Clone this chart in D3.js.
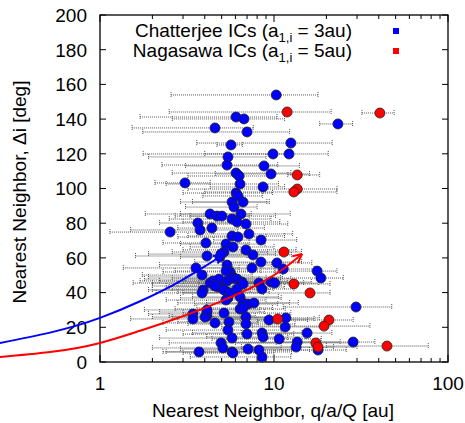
<!DOCTYPE html>
<html><head><meta charset="utf-8">
<script src="https://cdn.jsdelivr.net/npm/d3@7"></script>
<style>body{margin:0;background:#fff}svg{display:block}text{font-family:"Liberation Sans",Arial,sans-serif;fill:#000}</style>
</head><body><svg id="c" width="465" height="423"></svg>
<script>
// Chatterjee ICs (blue): nearest neighbour q/a/Q [au], Δi [deg], error bar low/high [au]
const blueX  = [10.3,6.05,6.72,4.58,7.0,23.3,5.66,12.5,9.87,12.2,5.44,5.37,8.76,6.05,6.3,9.61,3.08,6.38,8.65,6.05,6.21,5.74,6.64,5.89,4.29,4.70,5.02,6.46,3.65,5.74,6.13,6.9,3.76,4.40,2.53,5.74,6.21,7.18,8.42,4.06,5.30,5.81,6.9,5.16,4.12,7.57,4.89,4.96,8.42,10.4,3.56,5.37,7.47,11.3,17.7,18.6,3.86,5.59,5.81,5.30,4.29,3.91,3.86,4.70,4.89,5.37,5.81,6.13,5.37,6.38,8.2,8.53,9.61,10.1,4.46,4.83,4.76,5.16,5.44,5.59,6.64,7.09,7.67,6.38,6.64,4.12,3.42,3.42,4.12,4.01,4.58,5.16,6.9,5.51,6.9,9.36,11.7,11.6,5.44,5.74,7.0,8.53,8.65,10.7,4.96,5.09,5.74,7.09,8.53,8.2,3.71,5.81,15.5,13.6,13.4,17.9,28.5,29.6,6.55,6.64,6.13,4.58,5.30,4.12];
const blueY  = [153.9,141.2,140.1,134.9,132.6,137.2,125.1,126.2,119.9,119.9,118.2,113.5,113.0,108.9,107.2,108.4,103.2,102.6,100.9,97.4,95.7,92.2,92.2,89.3,85.3,84.1,84.1,85.3,80.1,82.4,80.7,79.5,76.1,77.2,74.9,72.6,72.0,73.8,70.3,68.6,68.0,66.3,64.6,63.4,61.1,61.7,60.5,62.2,57.6,57.1,54.2,55.9,54.2,53.6,52.4,48.4,50.1,51.9,49.0,52.4,45.5,41.5,39.8,45.5,43.8,46.7,48.4,47.8,40.3,37.5,45.5,42.1,46.1,45.5,46.7,47.8,43.2,41.5,36.9,39.8,34.0,33.4,34.0,30.5,31.1,28.8,27.7,24.8,26.5,25.9,22.5,28.2,25.9,23.1,21.9,24.2,25.4,20.2,18.4,13.8,16.1,16.7,14.4,13.3,11.0,8.1,5.8,7.5,2.9,6.9,5.8,5.2,16.7,11.5,8.6,6.9,11.5,31.7,46.1,45.0,42.1,43.8,35.7,30.0];
const blueLo = [2.56,1.70,2.6,1.53,1.76,18.3,4.7,3.6,1.77,4.0,1.9,2.27,3.1,2.6,3.2,4.6,2.07,2.4,4.3,3.0,3.9,2.9,3.4,3.1,1.82,2.7,3.3,2.9,2.2,2.5,3.0,3.8,1.5,2.8,1.14,3.2,2.8,3.6,4.5,2.3,2.9,3.3,3.0,2.6,1.6,4.0,2.9,1.9,3.5,5.1,1.36,2.2,3.4,5.8,10.1,9.0,1.75,2.3,1.9,2.7,1.55,1.9,2.1,2.0,2.4,1.7,2.6,3.1,2.8,3.4,3.7,4.4,5.0,4.2,2.2,1.8,2.5,2.0,2.9,3.0,2.8,3.5,4.1,2.7,3.6,2.2,1.9,1.5,2.5,2.0,2.3,3.0,2.6,2.8,3.2,4.0,5.5,5.0,2.4,2.2,3.0,3.4,4.1,4.4,2.5,2.0,2.3,2.9,3.3,3.6,2.4,3.0,6.5,5.3,4.8,7.0,11.0,11.3,3.0,2.8,2.6,2.0,2.4,1.8];
const blueHi = [17.9,10.4,11.5,7.6,12.3,28.3,6.6,21.6,12.0,20.5,9.0,10.5,14.0,12.5,10.0,16.0,4.3,10.6,11.5,9.8,8.6,9.1,9.4,8.0,7.4,10.2,7.2,12.4,6.0,9.6,10.8,12.0,6.2,8.8,4.5,11.5,9.0,12.8,13.5,7.2,8.9,10.0,13.4,9.2,7.0,12.6,8.0,10.2,14.4,16.5,6.3,9.7,12.0,17.0,23.0,25.0,7.5,10.8,11.2,8.4,9.1,7.3,6.5,10.5,8.6,12.0,10.9,12.5,9.4,10.6,14.8,13.0,16.4,18.0,9.7,8.2,11.5,9.0,11.0,8.7,12.3,10.5,13.8,11.6,9.8,8.8,7.0,6.4,7.8,9.4,8.1,12.5,11.5,10.0,13.2,15.6,18.2,19.8,11.0,12.0,13.0,14.5,15.2,18.7,10.3,11.0,12.6,14.0,12.5,16.0,8.4,10.0,21.5,24.0,22.0,26.0,38.0,47.5,12.8,11.0,9.9,8.0,9.0,8.3];
// Nagasawa ICs (red)
const redX  = [11.9,40.6,13.6,13.6,13.0,11.4,13.0,16.1,10.5,20.7,19.4,17.4,17.9,44.6];
const redY  = [144.1,143.5,107.8,99.7,98.0,63.4,45.0,39.8,24.8,24.2,20.7,11.0,8.6,9.2];
const redLo = [2.5,32,12,3.2,4.0,6.5,5.5,6.0,4.5,8.0,7.5,6.0,6.5,20];
const redHi = [21.3,49,18.3,23,23,14.4,21,21,17,28.5,35.6,27,30,77];
// arrows (q/a/Q, Δi)
const blueArrowX = [0.266,1,1.70,2.88,4.12,5.09];
const blueArrowY = [11.0,25.4,35.0,46.5,55.9,61.7];
const redArrowX  = [0.266,1,1.70,2.88,4.12,5.59,7.97,11.3,14.5];
const redArrowY  = [2.9,11.0,18.0,25.8,31.6,37.2,44.4,53.6,62.2];
const yTicks = [0,20,40,60,80,100,120,140,160,180,200];
const xTicks = [1,10,100];

const svg = d3.select("#c");
const L=100,R=448,T=15,B=362;
const x = d3.scaleLog().domain([1,100]).range([L,R]);
const y = d3.scaleLinear().domain([0,200]).range([B,T]);

// frame
svg.append("rect").attr("x",L).attr("y",T).attr("width",R-L).attr("height",B-T)
  .attr("fill","none").attr("stroke","#000").attr("stroke-width",1.3);

const FS=19;
const g = svg.append("g");
yTicks.forEach(v=>{
  g.append("line").attr("x1",L).attr("x2",L+6).attr("y1",y(v)).attr("y2",y(v)).attr("stroke","#000");
  g.append("line").attr("x1",R).attr("x2",R-6).attr("y1",y(v)).attr("y2",y(v)).attr("stroke","#000");
  g.append("text").attr("x",L-13).attr("y",y(v)).attr("dy","0.36em").attr("text-anchor","end")
    .attr("font-size",FS).text(v);
});
const minor=[];
[1,10].forEach(d=>{for(let k=2;k<=9;k++)minor.push(d*k);});
minor.forEach(v=>{
  g.append("line").attr("x1",x(v)).attr("x2",x(v)).attr("y1",B).attr("y2",B-4).attr("stroke","#000");
  g.append("line").attr("x1",x(v)).attr("x2",x(v)).attr("y1",T).attr("y2",T+4).attr("stroke","#000");
});
xTicks.forEach(v=>{
  g.append("line").attr("x1",x(v)).attr("x2",x(v)).attr("y1",B).attr("y2",B-7).attr("stroke","#000");
  g.append("line").attr("x1",x(v)).attr("x2",x(v)).attr("y1",T).attr("y2",T+7).attr("stroke","#000");
  g.append("text").attr("x",x(v)).attr("y",B+28).attr("text-anchor","middle").attr("font-size",FS).text(v);
});

svg.append("text").attr("x",273).attr("y",417).attr("text-anchor","middle").attr("font-size",19)
  .text("Nearest Neighbor, q/a/Q [au]");
svg.append("text").attr("transform","translate(26,192) rotate(-90)").attr("text-anchor","middle")
  .attr("font-size",19).text("Nearest Neighbor, Δi [deg]");

function bars(X,Y,LO,HI){
  const eb = svg.append("g").attr("stroke","#555").attr("stroke-width",1).attr("stroke-dasharray","1,1").attr("fill","none");
  X.forEach((_,i)=>{
    const yy=y(Y[i]);
    eb.append("line").attr("x1",x(LO[i])).attr("x2",x(HI[i])).attr("y1",yy).attr("y2",yy);
    eb.append("line").attr("x1",x(LO[i])).attr("x2",x(LO[i])).attr("y1",yy-3).attr("y2",yy+3);
    eb.append("line").attr("x1",x(HI[i])).attr("x2",x(HI[i])).attr("y1",yy-3).attr("y2",yy+3);
  });
}
bars(blueX,blueY,blueLo,blueHi);
bars(redX,redY,redLo,redHi);

function pts(X,Y,col){
  svg.append("g").selectAll("circle").data(X).join("circle")
    .attr("cx",d=>x(d)).attr("cy",(d,i)=>y(Y[i])).attr("r",5)
    .attr("fill",col).attr("stroke","#222").attr("stroke-width",0.8);
}
pts(blueX,blueY,"#0000ff");
pts(redX,redY,"#ff0000");

function arrow(X,Y,col){
  const p = X.map((d,i)=>[x(d),y(Y[i])]);
  svg.append("path").attr("d",d3.line().curve(d3.curveMonotoneX)(p))
    .attr("fill","none").attr("stroke",col).attr("stroke-width",2);
  const a=p[p.length-2], b=p[p.length-1];
  const ang=Math.atan2(b[1]-a[1],b[0]-a[0]);
  [-0.45,0.45].forEach(o=>{
    svg.append("line").attr("x1",b[0]).attr("y1",b[1])
      .attr("x2",b[0]-10*Math.cos(ang+o)).attr("y2",b[1]-10*Math.sin(ang+o))
      .attr("stroke",col).attr("stroke-width",2);
  });
}
arrow(blueArrowX,blueArrowY,"#0000ff");
arrow(redArrowX,redArrowY,"#ff0000");

const leg=[["Chatterjee ICs (a","1,i"," = 3au)","#0000ff"],["Nagasawa ICs (a","1,i"," = 5au)","#ff0000"]];
leg.forEach((l,i)=>{
  const yy=37+i*20;
  const t=svg.append("text").attr("x",352).attr("y",yy).attr("text-anchor","end").attr("font-size",19);
  t.append("tspan").text(l[0]);
  t.append("tspan").attr("font-size",13).attr("dy",5).text(l[1]);
  t.append("tspan").attr("dy",-5).text(l[2]);
  svg.append("rect").attr("x",393).attr("y",yy-9).attr("width",6).attr("height",6).attr("fill",l[3]);
});
</script></body></html>
